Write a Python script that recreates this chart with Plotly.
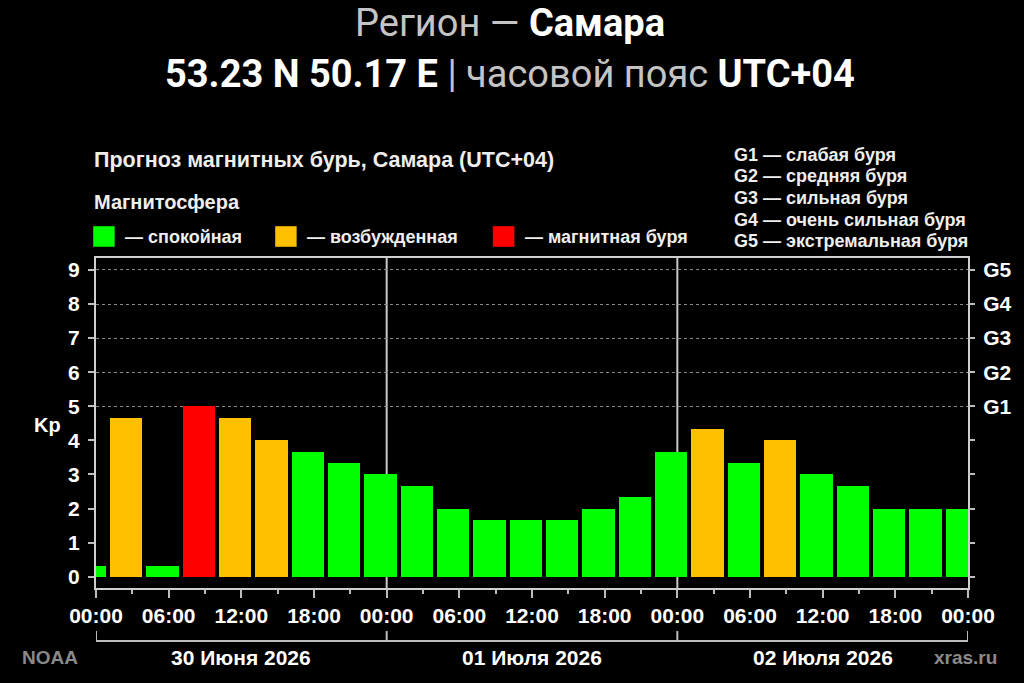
import pandas as pd
import plotly.graph_objects as go

# 3-hour Kp forecast bins (local time, UTC+04): start of each bin and its Kp value
bin_start = [
    "2026-06-29 22:00", "2026-06-30 01:00", "2026-06-30 04:00", "2026-06-30 07:00",
    "2026-06-30 10:00", "2026-06-30 13:00", "2026-06-30 16:00", "2026-06-30 19:00",
    "2026-06-30 22:00", "2026-07-01 01:00", "2026-07-01 04:00", "2026-07-01 07:00",
    "2026-07-01 10:00", "2026-07-01 13:00", "2026-07-01 16:00", "2026-07-01 19:00",
    "2026-07-01 22:00", "2026-07-02 01:00", "2026-07-02 04:00", "2026-07-02 07:00",
    "2026-07-02 10:00", "2026-07-02 13:00", "2026-07-02 16:00", "2026-07-02 19:00",
    "2026-07-02 22:00",
]
kp = [
    0.33, 4.67, 0.33, 5.00, 4.67, 4.00, 3.67, 3.33,
    3.00, 2.67, 2.00, 1.67, 1.67, 1.67, 2.00, 2.33,
    3.67, 4.33, 3.33, 4.00, 3.00, 2.67, 2.00, 2.00,
    2.00,
]

days = ["2026-06-30", "2026-07-01", "2026-07-02", "2026-07-03"]
day_labels = ["30 Июня 2026", "01 Июля 2026", "02 Июля 2026"]

g_levels = [5, 6, 7, 8, 9]
g_labels = ["G1", "G2", "G3", "G4", "G5"]
g_legend = [
    "G1 — слабая буря",
    "G2 — средняя буря",
    "G3 — сильная буря",
    "G4 — очень сильная буря",
    "G5 — экстремальная буря",
]

states = ["— спокойная", "— возбужденная", "— магнитная буря"]
state_colors = ["#00ff00", "#ffc000", "#ff0000"]

FONT = "Liberation Sans"
TITLE_FONT = "Roboto"
BIN_MS = 3 * 3600 * 1000

# plot area in pixels (for placing paper-referenced labels)
W, H = 1024, 683
L, R, T, B = 96, 51, 258, 95
PW, PH = W - L - R, H - T - B


def px_x(x):
    return (x - L) / PW


def px_y(y):
    return (H - B - y) / PH


def kp_color(v):
    if v >= 5:
        return state_colors[2]
    if v >= 4:
        return state_colors[1]
    return state_colors[0]


centers = pd.to_datetime(bin_start) + pd.Timedelta(hours=1.5)

fig = go.Figure()
fig.add_trace(
    go.Bar(
        x=centers,
        y=kp,
        width=[BIN_MS * 0.89] * len(kp),
        marker={"color": [kp_color(v) for v in kp], "line": {"width": 0}},
        showlegend=False,
        hoverinfo="skip",
    )
)
# invisible helper so the right (G-scale) axis is drawn
fig.add_trace(
    go.Scatter(x=[centers[0]], y=[0], yaxis="y2", mode="markers",
               marker={"opacity": 0}, showlegend=False, hoverinfo="skip")
)

shapes = []
# day separators inside the plot
for d in days[1:-1]:
    shapes.append(dict(type="line", xref="x", yref="paper", x0=d, x1=d, y0=0, y1=1,
                       line={"color": "#c8c8c8", "width": 2}, layer="below"))
# bracket under the time labels
yb = px_y(641)
shapes.append(dict(type="line", xref="x", yref="paper", x0=days[0], x1=days[-1],
                   y0=yb, y1=yb, line={"color": "#bdbdbd", "width": 2}))
for d in days:
    shapes.append(dict(type="line", xref="x", yref="paper", x0=d, x1=d,
                       y0=yb, y1=px_y(631), line={"color": "#bdbdbd", "width": 2}))

annotations = []
# headline
annotations.append(dict(
    xref="paper", yref="paper", x=px_x(512), y=px_y(23), showarrow=False,
    text="<span style='color:#c4c4c4'>Регион — </span><b>Самара</b>",
    font={"family": TITLE_FONT, "size": 38, "color": "#ffffff"},
    xanchor="center", yanchor="middle",
))
annotations.append(dict(
    xref="paper", yref="paper", x=px_x(512), y=px_y(74), showarrow=False,
    text="<b>53.23 N 50.17 E</b><span style='color:#c4c4c4'> | часовой пояс </span><b>UTC+04</b>",
    font={"family": TITLE_FONT, "size": 38, "color": "#ffffff"},
    xanchor="center", yanchor="middle",
))
# left legend block
annotations.append(dict(
    xref="paper", yref="paper", x=px_x(92), y=px_y(160), showarrow=False,
    text="<b>Прогноз магнитных бурь, Самара (UTC+04)</b>",
    font={"family": FONT, "size": 21.5, "color": "#eeeeee"},
    xanchor="left", yanchor="middle",
))
annotations.append(dict(
    xref="paper", yref="paper", x=px_x(92), y=px_y(202), showarrow=False,
    text="<b>Магнитосфера</b>",
    font={"family": FONT, "size": 20, "color": "#eeeeee"},
    xanchor="left", yanchor="middle",
))
swatch_x = [93, 276, 495]
for sx, label, color in zip(swatch_x, states, state_colors):
    shapes.append(dict(type="rect", xref="paper", yref="paper",
                       x0=px_x(sx), x1=px_x(sx + 22), y0=px_y(247), y1=px_y(226),
                       fillcolor=color, line={"width": 1, "color": "rgba(0,0,0,0.4)"}))
    annotations.append(dict(
        xref="paper", yref="paper", x=px_x(sx + 30), y=px_y(237), showarrow=False,
        text=f"<b>{label}</b>",
        font={"family": FONT, "size": 18, "color": "#eeeeee"},
        xanchor="left", yanchor="middle",
    ))
# right legend block
for i, label in enumerate(g_legend):
    annotations.append(dict(
        xref="paper", yref="paper", x=px_x(736), y=px_y(155 + i * 21.5), showarrow=False,
        text=f"<b>{label}</b>",
        font={"family": FONT, "size": 18, "color": "#eeeeee"},
        xanchor="left", yanchor="middle",
    ))
# Kp axis label
annotations.append(dict(
    xref="paper", yref="paper", x=px_x(47), y=px_y(425), showarrow=False,
    text="<b>Kp</b>", font={"family": FONT, "size": 20, "color": "#ffffff"},
    xanchor="center", yanchor="middle",
))
# day labels
for d0, d1, label in zip(days[:-1], days[1:], day_labels):
    mid = pd.Timestamp(d0) + (pd.Timestamp(d1) - pd.Timestamp(d0)) / 2
    annotations.append(dict(
        xref="x", yref="paper", x=mid, y=px_y(657), showarrow=False,
        text=f"<b>{label}</b>", font={"family": FONT, "size": 21, "color": "#ffffff"},
        xanchor="center", yanchor="middle",
    ))
# sources
annotations.append(dict(
    xref="paper", yref="paper", x=px_x(50), y=px_y(657), showarrow=False,
    text="<b>NOAA</b>", font={"family": FONT, "size": 19, "color": "#8a8a8a"},
    xanchor="center", yanchor="middle",
))
annotations.append(dict(
    xref="paper", yref="paper", x=px_x(970), y=px_y(657), showarrow=False,
    text="<b>xras.ru</b>", font={"family": FONT, "size": 19, "color": "#8a8a8a"},
    xanchor="center", yanchor="middle",
))

tickfont = {"family": FONT, "size": 21, "color": "#ffffff", "weight": "bold"}

fig.update_layout(
    width=W,
    height=H,
    margin={"l": L, "r": R, "t": T, "b": B},
    paper_bgcolor="#000000",
    plot_bgcolor="#000000",
    bargap=0,
    shapes=shapes,
    annotations=annotations,
    xaxis=dict(
        type="date",
        range=[days[0], days[-1]],
        tick0=days[0],
        dtick=2 * BIN_MS,
        tickformat="%H:%M",
        ticks="outside",
        ticklen=8,
        tickwidth=2,
        tickcolor="#bdbdbd",
        tickfont=tickfont,
        minor={"dtick": BIN_MS, "ticks": "outside", "ticklen": 4, "tickwidth": 2,
               "tickcolor": "#bdbdbd", "showgrid": False},
        showgrid=False,
        zeroline=False,
        showline=True,
        linecolor="#cfcfcf",
        linewidth=2,
        mirror=True,
        fixedrange=True,
    ),
    yaxis=dict(
        range=[-0.33, 9.35],
        tickvals=list(range(10)),
        ticks="outside",
        ticklen=6,
        tickwidth=2,
        tickcolor="#bdbdbd",
        tickfont=tickfont,
        ticklabelstandoff=4,
        showgrid=False,
        zeroline=False,
        showline=True,
        linecolor="#cfcfcf",
        linewidth=2,
        mirror=True,
        fixedrange=True,
    ),
    yaxis2=dict(
        overlaying="y",
        side="right",
        range=[-0.33, 9.35],
        tickvals=g_levels,
        ticktext=g_labels,
        ticks="outside",
        ticklen=6,
        tickwidth=2,
        tickcolor="#bdbdbd",
        tickfont=tickfont,
        ticklabelstandoff=4,
        minor={"tickvals": [0, 1, 2, 3, 4], "ticks": "outside", "ticklen": 6,
               "tickwidth": 2, "tickcolor": "#bdbdbd", "showgrid": False},
        showgrid=True,
        gridcolor="#8a8a8a",
        griddash="dot",
        gridwidth=1,
        zeroline=False,
        showline=False,
        fixedrange=True,
    ),
)

fig.write_html(
    "out.html",
    config={"displayModeBar": False},
    post_script="document.body.style.margin='0';document.body.style.overflow='hidden';",
)
